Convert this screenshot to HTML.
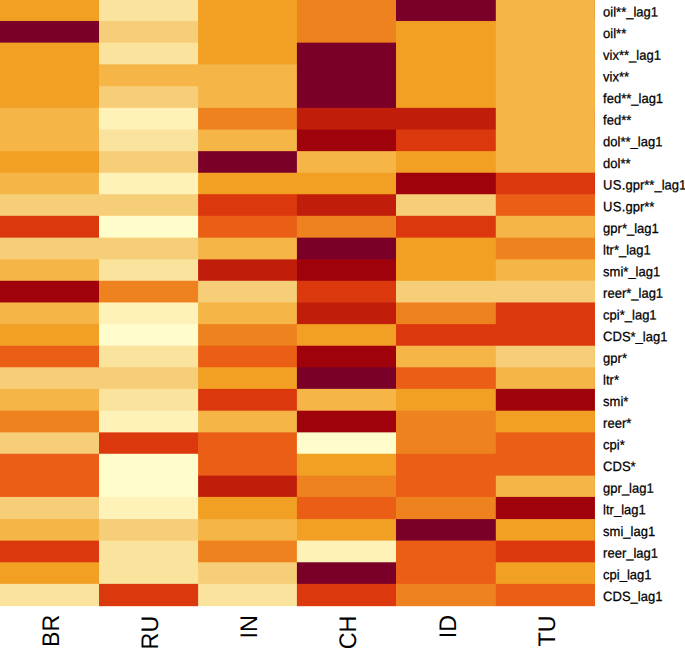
<!DOCTYPE html>
<html lang="en"><head><meta charset="utf-8"><title>heatmap</title>
<style>
html,body{margin:0;padding:0;background:#fff;}
body{width:685px;height:648px;overflow:hidden;position:relative;font-family:"Liberation Sans",Arial,sans-serif;color:#000;}
#hm{position:absolute;left:0;top:0;}
.rt{font-family:"Liberation Sans",Arial,sans-serif;font-size:13px;fill:#000;stroke:#000;stroke-width:0.25px;text-rendering:geometricPrecision;}
.ct{font-family:"Liberation Sans",Arial,sans-serif;font-size:23.25px;fill:#000;text-rendering:geometricPrecision;}
</style></head><body>
<svg id="hm" width="685" height="648" viewBox="0 0 685 648">
<defs>
<linearGradient id="g0" gradientUnits="userSpaceOnUse" x1="0" y1="0" x2="0" y2="648">
<stop offset="0" stop-color="#F2A024"/><stop offset="0.03156" stop-color="#F2A024"/><stop offset="0.03326" stop-color="#7B0028"/><stop offset="0.06497" stop-color="#7B0028"/><stop offset="0.06667" stop-color="#F2A024"/><stop offset="0.16566" stop-color="#F2A024"/><stop offset="0.16736" stop-color="#F5B547"/><stop offset="0.23233" stop-color="#F5B547"/><stop offset="0.23403" stop-color="#F2A024"/><stop offset="0.26574" stop-color="#F2A024"/><stop offset="0.26744" stop-color="#F5B547"/><stop offset="0.29884" stop-color="#F5B547"/><stop offset="0.30054" stop-color="#F7CE78"/><stop offset="0.33225" stop-color="#F7CE78"/><stop offset="0.33395" stop-color="#DC380E"/><stop offset="0.36590" stop-color="#DC380E"/><stop offset="0.36759" stop-color="#F7CE78"/><stop offset="0.39938" stop-color="#F7CE78"/><stop offset="0.40108" stop-color="#F5B547"/><stop offset="0.43248" stop-color="#F5B547"/><stop offset="0.43418" stop-color="#A0020C"/><stop offset="0.46590" stop-color="#A0020C"/><stop offset="0.46759" stop-color="#F5B547"/><stop offset="0.49931" stop-color="#F5B547"/><stop offset="0.50100" stop-color="#F2A024"/><stop offset="0.53272" stop-color="#F2A024"/><stop offset="0.53441" stop-color="#EA5E16"/><stop offset="0.56590" stop-color="#EA5E16"/><stop offset="0.56759" stop-color="#F7CE78"/><stop offset="0.59931" stop-color="#F7CE78"/><stop offset="0.60100" stop-color="#F5B547"/><stop offset="0.63295" stop-color="#F5B547"/><stop offset="0.63465" stop-color="#EE821E"/><stop offset="0.66636" stop-color="#EE821E"/><stop offset="0.66806" stop-color="#F7CE78"/><stop offset="0.69946" stop-color="#F7CE78"/><stop offset="0.70116" stop-color="#EA5E16"/><stop offset="0.76605" stop-color="#EA5E16"/><stop offset="0.76775" stop-color="#F7CE78"/><stop offset="0.80015" stop-color="#F7CE78"/><stop offset="0.80185" stop-color="#F5B547"/><stop offset="0.83341" stop-color="#F5B547"/><stop offset="0.83511" stop-color="#DC380E"/><stop offset="0.86682" stop-color="#DC380E"/><stop offset="0.86852" stop-color="#F2A024"/><stop offset="0.90023" stop-color="#F2A024"/><stop offset="0.90193" stop-color="#FAE39C"/><stop offset="0.93457" stop-color="#FAE39C"/><stop offset="0.93627" stop-color="#FFFFFF"/>
</linearGradient>
<linearGradient id="g1" gradientUnits="userSpaceOnUse" x1="0" y1="0" x2="0" y2="648">
<stop offset="0" stop-color="#FAE39C"/><stop offset="0.03156" stop-color="#FAE39C"/><stop offset="0.03326" stop-color="#F7CE78"/><stop offset="0.06497" stop-color="#F7CE78"/><stop offset="0.06667" stop-color="#FAE39C"/><stop offset="0.09838" stop-color="#FAE39C"/><stop offset="0.10008" stop-color="#F5B547"/><stop offset="0.13210" stop-color="#F5B547"/><stop offset="0.13380" stop-color="#F7CE78"/><stop offset="0.16566" stop-color="#F7CE78"/><stop offset="0.16736" stop-color="#FFF2B9"/><stop offset="0.19907" stop-color="#FFF2B9"/><stop offset="0.20077" stop-color="#FAE39C"/><stop offset="0.23233" stop-color="#FAE39C"/><stop offset="0.23403" stop-color="#F7CE78"/><stop offset="0.26574" stop-color="#F7CE78"/><stop offset="0.26744" stop-color="#FFF2B9"/><stop offset="0.29884" stop-color="#FFF2B9"/><stop offset="0.30054" stop-color="#F7CE78"/><stop offset="0.33225" stop-color="#F7CE78"/><stop offset="0.33395" stop-color="#FFFDCB"/><stop offset="0.36590" stop-color="#FFFDCB"/><stop offset="0.36759" stop-color="#F7CE78"/><stop offset="0.39938" stop-color="#F7CE78"/><stop offset="0.40108" stop-color="#FAE39C"/><stop offset="0.43248" stop-color="#FAE39C"/><stop offset="0.43418" stop-color="#EE821E"/><stop offset="0.46590" stop-color="#EE821E"/><stop offset="0.46759" stop-color="#FFF2B9"/><stop offset="0.49931" stop-color="#FFF2B9"/><stop offset="0.50100" stop-color="#FFFDCB"/><stop offset="0.53272" stop-color="#FFFDCB"/><stop offset="0.53441" stop-color="#FAE39C"/><stop offset="0.56590" stop-color="#FAE39C"/><stop offset="0.56759" stop-color="#F7CE78"/><stop offset="0.59931" stop-color="#F7CE78"/><stop offset="0.60100" stop-color="#FAE39C"/><stop offset="0.63295" stop-color="#FAE39C"/><stop offset="0.63465" stop-color="#FFF2B9"/><stop offset="0.66636" stop-color="#FFF2B9"/><stop offset="0.66806" stop-color="#DC380E"/><stop offset="0.69946" stop-color="#DC380E"/><stop offset="0.70116" stop-color="#FFFDCB"/><stop offset="0.76605" stop-color="#FFFDCB"/><stop offset="0.76775" stop-color="#FFF2B9"/><stop offset="0.80015" stop-color="#FFF2B9"/><stop offset="0.80185" stop-color="#F7CE78"/><stop offset="0.83341" stop-color="#F7CE78"/><stop offset="0.83511" stop-color="#FAE39C"/><stop offset="0.90023" stop-color="#FAE39C"/><stop offset="0.90193" stop-color="#DC380E"/><stop offset="0.93457" stop-color="#DC380E"/><stop offset="0.93627" stop-color="#FFFFFF"/>
</linearGradient>
<linearGradient id="g2" gradientUnits="userSpaceOnUse" x1="0" y1="0" x2="0" y2="648">
<stop offset="0" stop-color="#F2A024"/><stop offset="0.09838" stop-color="#F2A024"/><stop offset="0.10008" stop-color="#F5B547"/><stop offset="0.16566" stop-color="#F5B547"/><stop offset="0.16736" stop-color="#EE821E"/><stop offset="0.19907" stop-color="#EE821E"/><stop offset="0.20077" stop-color="#F5B547"/><stop offset="0.23233" stop-color="#F5B547"/><stop offset="0.23403" stop-color="#7B0028"/><stop offset="0.26574" stop-color="#7B0028"/><stop offset="0.26744" stop-color="#F2A024"/><stop offset="0.29884" stop-color="#F2A024"/><stop offset="0.30054" stop-color="#DC380E"/><stop offset="0.33225" stop-color="#DC380E"/><stop offset="0.33395" stop-color="#EA5E16"/><stop offset="0.36590" stop-color="#EA5E16"/><stop offset="0.36759" stop-color="#F5B547"/><stop offset="0.39938" stop-color="#F5B547"/><stop offset="0.40108" stop-color="#C01E0A"/><stop offset="0.43248" stop-color="#C01E0A"/><stop offset="0.43418" stop-color="#F7CE78"/><stop offset="0.46590" stop-color="#F7CE78"/><stop offset="0.46759" stop-color="#F5B547"/><stop offset="0.49931" stop-color="#F5B547"/><stop offset="0.50100" stop-color="#EE821E"/><stop offset="0.53272" stop-color="#EE821E"/><stop offset="0.53441" stop-color="#EA5E16"/><stop offset="0.56590" stop-color="#EA5E16"/><stop offset="0.56759" stop-color="#F2A024"/><stop offset="0.59931" stop-color="#F2A024"/><stop offset="0.60100" stop-color="#DC380E"/><stop offset="0.63295" stop-color="#DC380E"/><stop offset="0.63465" stop-color="#F5B547"/><stop offset="0.66636" stop-color="#F5B547"/><stop offset="0.66806" stop-color="#EA5E16"/><stop offset="0.73318" stop-color="#EA5E16"/><stop offset="0.73488" stop-color="#C01E0A"/><stop offset="0.76605" stop-color="#C01E0A"/><stop offset="0.76775" stop-color="#F2A024"/><stop offset="0.80015" stop-color="#F2A024"/><stop offset="0.80185" stop-color="#F5B547"/><stop offset="0.83341" stop-color="#F5B547"/><stop offset="0.83511" stop-color="#EE821E"/><stop offset="0.86682" stop-color="#EE821E"/><stop offset="0.86852" stop-color="#F7CE78"/><stop offset="0.90023" stop-color="#F7CE78"/><stop offset="0.90193" stop-color="#FAE39C"/><stop offset="0.93457" stop-color="#FAE39C"/><stop offset="0.93627" stop-color="#FFFFFF"/>
</linearGradient>
<linearGradient id="g3" gradientUnits="userSpaceOnUse" x1="0" y1="0" x2="0" y2="648">
<stop offset="0" stop-color="#EE821E"/><stop offset="0.06497" stop-color="#EE821E"/><stop offset="0.06667" stop-color="#7B0028"/><stop offset="0.16566" stop-color="#7B0028"/><stop offset="0.16736" stop-color="#C01E0A"/><stop offset="0.19907" stop-color="#C01E0A"/><stop offset="0.20077" stop-color="#A0020C"/><stop offset="0.23233" stop-color="#A0020C"/><stop offset="0.23403" stop-color="#F5B547"/><stop offset="0.26574" stop-color="#F5B547"/><stop offset="0.26744" stop-color="#F2A024"/><stop offset="0.29884" stop-color="#F2A024"/><stop offset="0.30054" stop-color="#C01E0A"/><stop offset="0.33225" stop-color="#C01E0A"/><stop offset="0.33395" stop-color="#EE821E"/><stop offset="0.36590" stop-color="#EE821E"/><stop offset="0.36759" stop-color="#7B0028"/><stop offset="0.39938" stop-color="#7B0028"/><stop offset="0.40108" stop-color="#A0020C"/><stop offset="0.43248" stop-color="#A0020C"/><stop offset="0.43418" stop-color="#DC380E"/><stop offset="0.46590" stop-color="#DC380E"/><stop offset="0.46759" stop-color="#C01E0A"/><stop offset="0.49931" stop-color="#C01E0A"/><stop offset="0.50100" stop-color="#F2A024"/><stop offset="0.53272" stop-color="#F2A024"/><stop offset="0.53441" stop-color="#A0020C"/><stop offset="0.56590" stop-color="#A0020C"/><stop offset="0.56759" stop-color="#7B0028"/><stop offset="0.59931" stop-color="#7B0028"/><stop offset="0.60100" stop-color="#F5B547"/><stop offset="0.63295" stop-color="#F5B547"/><stop offset="0.63465" stop-color="#A0020C"/><stop offset="0.66636" stop-color="#A0020C"/><stop offset="0.66806" stop-color="#FFFDCB"/><stop offset="0.69946" stop-color="#FFFDCB"/><stop offset="0.70116" stop-color="#F2A024"/><stop offset="0.73318" stop-color="#F2A024"/><stop offset="0.73488" stop-color="#EE821E"/><stop offset="0.76605" stop-color="#EE821E"/><stop offset="0.76775" stop-color="#EA5E16"/><stop offset="0.80015" stop-color="#EA5E16"/><stop offset="0.80185" stop-color="#F2A024"/><stop offset="0.83341" stop-color="#F2A024"/><stop offset="0.83511" stop-color="#FFF2B9"/><stop offset="0.86682" stop-color="#FFF2B9"/><stop offset="0.86852" stop-color="#7B0028"/><stop offset="0.90023" stop-color="#7B0028"/><stop offset="0.90193" stop-color="#DC380E"/><stop offset="0.93457" stop-color="#DC380E"/><stop offset="0.93627" stop-color="#FFFFFF"/>
</linearGradient>
<linearGradient id="g4" gradientUnits="userSpaceOnUse" x1="0" y1="0" x2="0" y2="648">
<stop offset="0" stop-color="#7B0028"/><stop offset="0.03156" stop-color="#7B0028"/><stop offset="0.03326" stop-color="#F2A024"/><stop offset="0.16566" stop-color="#F2A024"/><stop offset="0.16736" stop-color="#C01E0A"/><stop offset="0.19907" stop-color="#C01E0A"/><stop offset="0.20077" stop-color="#DC380E"/><stop offset="0.23233" stop-color="#DC380E"/><stop offset="0.23403" stop-color="#F2A024"/><stop offset="0.26574" stop-color="#F2A024"/><stop offset="0.26744" stop-color="#A0020C"/><stop offset="0.29884" stop-color="#A0020C"/><stop offset="0.30054" stop-color="#F7CE78"/><stop offset="0.33225" stop-color="#F7CE78"/><stop offset="0.33395" stop-color="#DC380E"/><stop offset="0.36590" stop-color="#DC380E"/><stop offset="0.36759" stop-color="#F2A024"/><stop offset="0.43248" stop-color="#F2A024"/><stop offset="0.43418" stop-color="#F7CE78"/><stop offset="0.46590" stop-color="#F7CE78"/><stop offset="0.46759" stop-color="#EE821E"/><stop offset="0.49931" stop-color="#EE821E"/><stop offset="0.50100" stop-color="#DC380E"/><stop offset="0.53272" stop-color="#DC380E"/><stop offset="0.53441" stop-color="#F5B547"/><stop offset="0.56590" stop-color="#F5B547"/><stop offset="0.56759" stop-color="#EA5E16"/><stop offset="0.59931" stop-color="#EA5E16"/><stop offset="0.60100" stop-color="#F2A024"/><stop offset="0.63295" stop-color="#F2A024"/><stop offset="0.63465" stop-color="#EE821E"/><stop offset="0.69946" stop-color="#EE821E"/><stop offset="0.70116" stop-color="#EA5E16"/><stop offset="0.76605" stop-color="#EA5E16"/><stop offset="0.76775" stop-color="#EE821E"/><stop offset="0.80015" stop-color="#EE821E"/><stop offset="0.80185" stop-color="#7B0028"/><stop offset="0.83341" stop-color="#7B0028"/><stop offset="0.83511" stop-color="#EA5E16"/><stop offset="0.90023" stop-color="#EA5E16"/><stop offset="0.90193" stop-color="#EE821E"/><stop offset="0.93457" stop-color="#EE821E"/><stop offset="0.93627" stop-color="#FFFFFF"/>
</linearGradient>
<linearGradient id="g5" gradientUnits="userSpaceOnUse" x1="0" y1="0" x2="0" y2="648">
<stop offset="0" stop-color="#F5B547"/><stop offset="0.26574" stop-color="#F5B547"/><stop offset="0.26744" stop-color="#DC380E"/><stop offset="0.29884" stop-color="#DC380E"/><stop offset="0.30054" stop-color="#EA5E16"/><stop offset="0.33225" stop-color="#EA5E16"/><stop offset="0.33395" stop-color="#F5B547"/><stop offset="0.36590" stop-color="#F5B547"/><stop offset="0.36759" stop-color="#EE821E"/><stop offset="0.39938" stop-color="#EE821E"/><stop offset="0.40108" stop-color="#F5B547"/><stop offset="0.43248" stop-color="#F5B547"/><stop offset="0.43418" stop-color="#F7CE78"/><stop offset="0.46590" stop-color="#F7CE78"/><stop offset="0.46759" stop-color="#DC380E"/><stop offset="0.53272" stop-color="#DC380E"/><stop offset="0.53441" stop-color="#F7CE78"/><stop offset="0.56590" stop-color="#F7CE78"/><stop offset="0.56759" stop-color="#F5B547"/><stop offset="0.59931" stop-color="#F5B547"/><stop offset="0.60100" stop-color="#A0020C"/><stop offset="0.63295" stop-color="#A0020C"/><stop offset="0.63465" stop-color="#F2A024"/><stop offset="0.66636" stop-color="#F2A024"/><stop offset="0.66806" stop-color="#EA5E16"/><stop offset="0.73318" stop-color="#EA5E16"/><stop offset="0.73488" stop-color="#F5B547"/><stop offset="0.76605" stop-color="#F5B547"/><stop offset="0.76775" stop-color="#A0020C"/><stop offset="0.80015" stop-color="#A0020C"/><stop offset="0.80185" stop-color="#F2A024"/><stop offset="0.83341" stop-color="#F2A024"/><stop offset="0.83511" stop-color="#DC380E"/><stop offset="0.86682" stop-color="#DC380E"/><stop offset="0.86852" stop-color="#F2A024"/><stop offset="0.90023" stop-color="#F2A024"/><stop offset="0.90193" stop-color="#EA5E16"/><stop offset="0.93457" stop-color="#EA5E16"/><stop offset="0.93627" stop-color="#FFFFFF"/>
</linearGradient>
</defs>
<rect x="0.00" y="0" width="594.90" height="607.15" fill="url(#g0)"/>
<rect x="99.00" y="0" width="495.90" height="607.15" fill="url(#g1)"/>
<rect x="198.10" y="0" width="396.80" height="607.15" fill="url(#g2)"/>
<rect x="296.90" y="0" width="298.00" height="607.15" fill="url(#g3)"/>
<rect x="396.00" y="0" width="198.90" height="607.15" fill="url(#g4)"/>
<rect x="495.80" y="0" width="99.10" height="607.15" fill="url(#g5)"/>
</svg>
<svg id="lb" width="685" height="648" viewBox="0 0 685 648" style="position:absolute;left:0;top:0">
<text class="rt" transform="translate(603.1 16.38) rotate(0.03) scale(1 1.04)">oil**_lag1</text>
<text class="rt" transform="translate(603.1 38.02) rotate(0.03) scale(1 1.04)">oil**</text>
<text class="rt" transform="translate(603.1 59.67) rotate(0.03) scale(1 1.04)">vix**_lag1</text>
<text class="rt" transform="translate(603.1 81.33) rotate(0.03) scale(1 1.04)">vix**</text>
<text class="rt" transform="translate(603.1 102.97) rotate(0.03) scale(1 1.04)">fed**_lag1</text>
<text class="rt" transform="translate(603.1 124.62) rotate(0.03) scale(1 1.04)">fed**</text>
<text class="rt" transform="translate(603.1 146.27) rotate(0.03) scale(1 1.04)">dol**_lag1</text>
<text class="rt" transform="translate(603.1 167.92) rotate(0.03) scale(1 1.04)">dol**</text>
<text class="rt" transform="translate(603.1 189.57) rotate(0.03) scale(1 1.04)"><tspan letter-spacing="0.25">US.</tspan>gpr**_lag1</text>
<text class="rt" transform="translate(603.1 211.22) rotate(0.03) scale(1 1.04)"><tspan letter-spacing="0.25">US.</tspan>gpr**</text>
<text class="rt" transform="translate(603.1 232.87) rotate(0.03) scale(1 1.04)">gpr*_lag1</text>
<text class="rt" transform="translate(603.1 254.52) rotate(0.03) scale(1 1.04)">ltr*_lag1</text>
<text class="rt" transform="translate(603.1 276.17) rotate(0.03) scale(1 1.04)">smi*_lag1</text>
<text class="rt" transform="translate(603.1 297.82) rotate(0.03) scale(1 1.04)">reer*_lag1</text>
<text class="rt" transform="translate(603.1 319.47) rotate(0.03) scale(1 1.04)">cpi*_lag1</text>
<text class="rt" transform="translate(603.1 341.12) rotate(0.03) scale(1 1.04)">CDS*_lag1</text>
<text class="rt" transform="translate(603.1 362.77) rotate(0.03) scale(1 1.04)">gpr*</text>
<text class="rt" transform="translate(603.1 384.42) rotate(0.03) scale(1 1.04)">ltr*</text>
<text class="rt" transform="translate(603.1 406.07) rotate(0.03) scale(1 1.04)">smi*</text>
<text class="rt" transform="translate(603.1 427.72) rotate(0.03) scale(1 1.04)">reer*</text>
<text class="rt" transform="translate(603.1 449.37) rotate(0.03) scale(1 1.04)">cpi*</text>
<text class="rt" transform="translate(603.1 471.02) rotate(0.03) scale(1 1.04)">CDS*</text>
<text class="rt" transform="translate(603.1 492.67) rotate(0.03) scale(1 1.04)">gpr_lag1</text>
<text class="rt" transform="translate(603.1 514.32) rotate(0.03) scale(1 1.04)">ltr_lag1</text>
<text class="rt" transform="translate(603.1 535.98) rotate(0.03) scale(1 1.04)">smi_lag1</text>
<text class="rt" transform="translate(603.1 557.62) rotate(0.03) scale(1 1.04)">reer_lag1</text>
<text class="rt" transform="translate(603.1 579.28) rotate(0.03) scale(1 1.04)">cpi_lag1</text>
<text class="rt" transform="translate(603.1 600.93) rotate(0.03) scale(1 1.04)">CDS_lag1</text>
<text class="ct" transform="translate(58.93 614.80) rotate(-90) scale(1 1.03)" x="0" y="0" text-anchor="end">BR</text>
<text class="ct" transform="translate(158.08 615.80) rotate(-90) scale(1 1.03)" x="0" y="0" text-anchor="end">RU</text>
<text class="ct" transform="translate(257.23 615.20) rotate(-90) scale(1 1.03)" x="0" y="0" text-anchor="end">IN</text>
<text class="ct" transform="translate(356.38 615.60) rotate(-90) scale(1 1.03)" x="0" y="0" text-anchor="end">CH</text>
<text class="ct" transform="translate(456.33 615.00) rotate(-90) scale(1 1.03)" x="0" y="0" text-anchor="end">ID</text>
<text class="ct" transform="translate(554.68 615.40) rotate(-90) scale(1 1.03)" x="0" y="0" text-anchor="end">TU</text>
</svg>
</body></html>
